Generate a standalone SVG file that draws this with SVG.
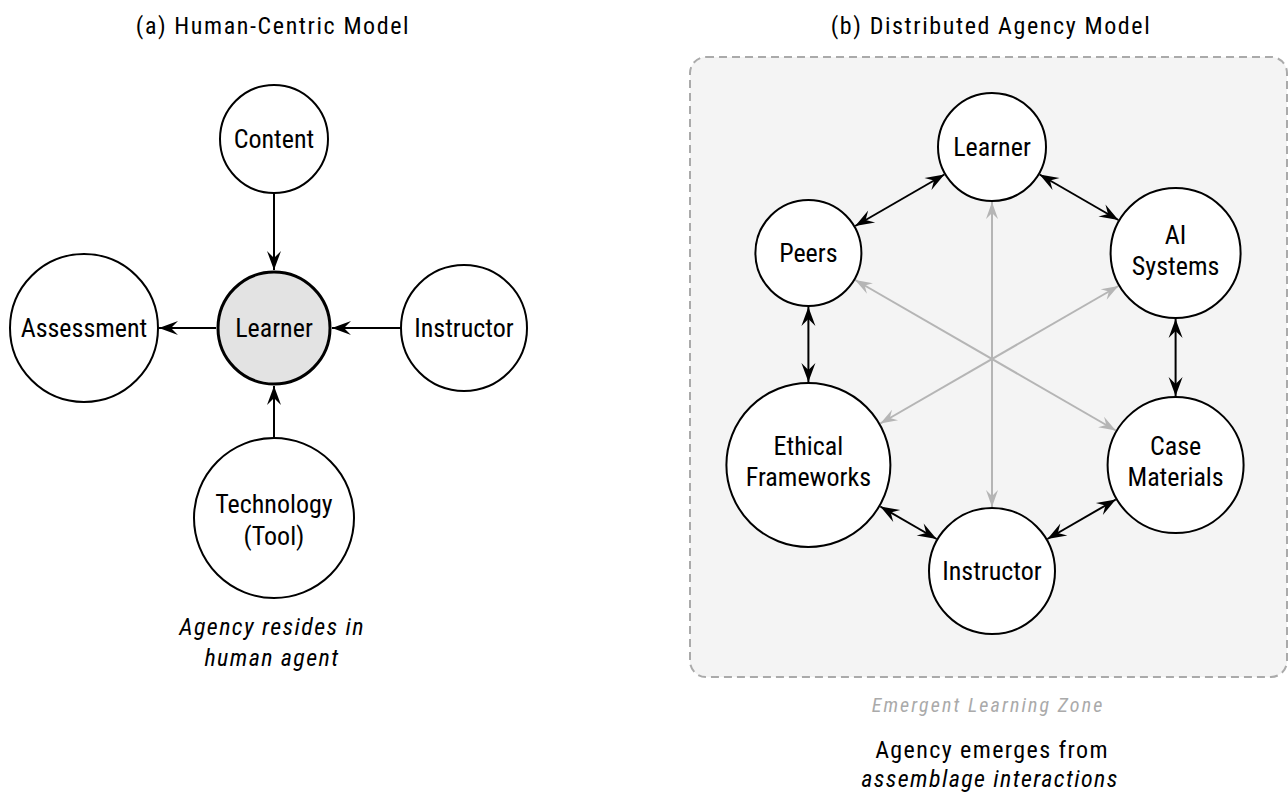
<svg xmlns="http://www.w3.org/2000/svg" width="1288" height="795" viewBox="0 0 1288 795">
<defs>
<style>
.t{font-family:"Roboto Condensed",Roboto,"Liberation Sans",sans-serif;fill:#000;text-anchor:middle}
.lbl{font-size:26px}
.title{font-size:24px;letter-spacing:1.6px}
.cap{font-size:24px;letter-spacing:1.4px}
.it{font-style:italic}
.zone{font-size:20px;letter-spacing:2.1px;fill:#aaaaaa;font-style:italic}
.n{fill:#fff;stroke:#000;stroke-width:2}
.c{stroke:#000;stroke-width:2;fill:none}
.g{stroke:#b5b5b5;stroke-width:2;fill:none}
</style>
<marker id="ab" markerWidth="20" markerHeight="14" refX="19" refY="7" orient="auto-start-reverse" markerUnits="userSpaceOnUse" overflow="visible"><path d="M19,7 L0,0 L7,7 L0,14 Z" fill="#000"/></marker>
<marker id="ag" markerWidth="20" markerHeight="14" refX="17" refY="6" orient="auto-start-reverse" markerUnits="userSpaceOnUse" overflow="visible"><path d="M17,6 L0,0 L6,6 L0,12 Z" fill="#b5b5b5"/></marker>
</defs>
<rect width="1288" height="795" fill="#fff"/>

<text class="t title" x="273" y="34">(a) Human-Centric Model</text>
<text class="t title" x="991" y="34">(b) Distributed Agency Model</text>

<rect id="zone" x="690" y="57" width="597" height="620" rx="16" fill="#f4f4f4" stroke="#aaaaaa" stroke-width="2" stroke-dasharray="8,5"/>

<g id="connectors">
<path class="c" d="M274,193 L274,270" marker-end="url(#ab)"/>
<path class="c" d="M401,328 L332,328" marker-end="url(#ab)"/>
<path class="c" d="M216,328 L159,328" marker-end="url(#ab)"/>
<path class="c" d="M274,438 L274,386" marker-end="url(#ab)"/>

<path class="g" d="M992,202 L992,507" marker-start="url(#ag)" marker-end="url(#ag)"/>
<path class="g" d="M855.2,280 L1115.8,430.5" marker-start="url(#ag)" marker-end="url(#ag)"/>
<path class="g" d="M1118.4,286 L880.3,423.5" marker-start="url(#ag)" marker-end="url(#ag)"/>

<path class="c" d="M1039.6,174.5 L1118.4,220" marker-start="url(#ab)" marker-end="url(#ab)"/>
<path class="c" d="M1175.6,319 L1175.6,396" marker-start="url(#ab)" marker-end="url(#ab)"/>
<path class="c" d="M1115.8,499.5 L1047.4,539" marker-start="url(#ab)" marker-end="url(#ab)"/>
<path class="c" d="M936.6,539 L880.3,506.5" marker-start="url(#ab)" marker-end="url(#ab)"/>
<path class="c" d="M808.4,382 L808.4,307" marker-start="url(#ab)" marker-end="url(#ab)"/>
<path class="c" d="M855.2,226 L944.4,174.5" marker-start="url(#ab)" marker-end="url(#ab)"/>
</g>

<g id="a-content"><circle class="n" cx="274" cy="139" r="54"/><text class="t lbl" x="274" y="148">Content</text></g>
<g id="a-learner"><circle cx="274" cy="328" r="56" fill="#e3e3e3" stroke="#000" stroke-width="3"/><text class="t lbl" x="274" y="337">Learner</text></g>
<g id="a-assessment"><circle class="n" cx="84" cy="328" r="74"/><text class="t lbl" x="84" y="337">Assessment</text></g>
<g id="a-instructor"><circle class="n" cx="464" cy="328" r="63"/><text class="t lbl" x="464" y="337">Instructor</text></g>
<g id="a-technology"><circle class="n" cx="274" cy="518" r="80"/><text class="t lbl" x="274" y="513">Technology</text><text class="t lbl" x="274" y="545">(Tool)</text></g>

<text class="t cap it" x="272" y="635">Agency resides in</text>
<text class="t cap it" x="272" y="666">human agent</text>

<g id="b-learner"><circle class="n" cx="992" cy="147" r="54"/><text class="t lbl" x="992" y="156">Learner</text></g>
<g id="b-ai"><circle class="n" cx="1175.6" cy="253" r="65"/><text class="t lbl" x="1175.6" y="244">AI</text><text class="t lbl" x="1175.6" y="275">Systems</text></g>
<g id="b-case"><circle class="n" cx="1175.6" cy="465" r="68"/><text class="t lbl" x="1175.6" y="455">Case</text><text class="t lbl" x="1175.6" y="486">Materials</text></g>
<g id="b-instructor"><circle class="n" cx="992" cy="571" r="63"/><text class="t lbl" x="992" y="580">Instructor</text></g>
<g id="b-ethical"><circle class="n" cx="808.4" cy="465" r="82"/><text class="t lbl" x="808.4" y="455">Ethical</text><text class="t lbl" x="808.4" y="486">Frameworks</text></g>
<g id="b-peers"><circle class="n" cx="808.4" cy="253" r="53"/><text class="t lbl" x="808.4" y="262">Peers</text></g>

<text class="t zone" x="988" y="712">Emergent Learning Zone</text>
<text class="t cap" x="992" y="758">Agency emerges from</text>
<text class="t cap it" x="990" y="787">assemblage interactions</text>
</svg>
